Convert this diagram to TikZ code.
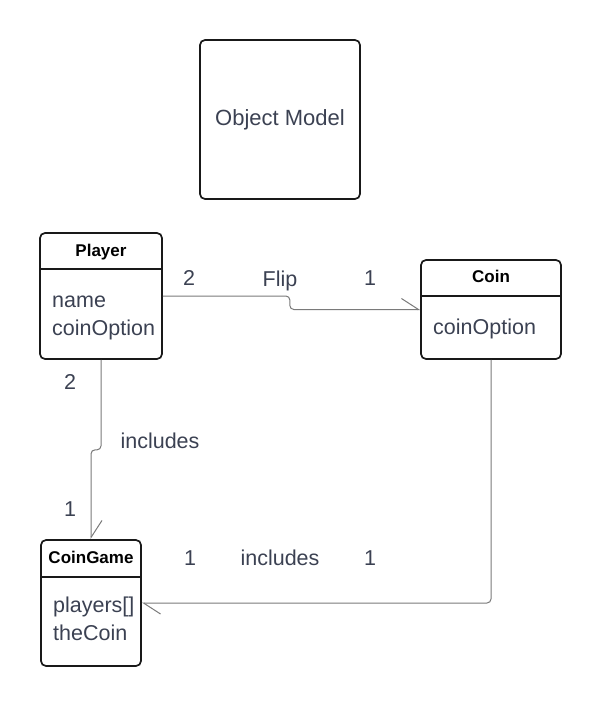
\documentclass[tikz,border=0pt]{standalone}
\usepackage{fontspec}
\setmainfont{Liberation Sans}
\usetikzlibrary{arrows.meta}

\definecolor{ink}{HTML}{3B4152}
\definecolor{wire}{HTML}{7A7A7A}

\begin{document}
\begin{tikzpicture}[
        x=1pt,y=-1pt,
        class box/.style={draw=black!90,line width=1.7pt,rounded corners=5pt,inner sep=0pt},
        head/.style={font=\fontsize{17}{20}\selectfont\bfseries,text=black,inner sep=0pt,anchor=base},
        attr/.style={font=\fontsize{21.5}{26}\selectfont,text=ink,inner sep=0pt,anchor=base west},
        lbl/.style={font=\fontsize{21.5}{26}\selectfont,text=ink,inner sep=0pt,anchor=base},
        sep/.style={draw=black!90,line width=1.5pt},
        conn/.style={draw=wire,line width=1pt,rounded corners=4pt,
            -{Straight Barb[harpoon,length=17pt,width=22pt]}},
        ]
    
    \useasboundingbox (0,0) rectangle (601,707);
    
    % title box
    \node[class box,minimum width=160pt,minimum height=159pt,
        font=\fontsize{22}{26}\selectfont,text=ink] (model) at (280,119.5) {Object Model};
    
    % classes
    \node[class box,minimum width=122pt,minimum height=126pt] (Player) at (101,296) {};
    \node[class box,minimum width=140pt,minimum height=99pt] (Coin) at (491,309.5) {};
    \node[class box,minimum width=100pt,minimum height=126pt] (CoinGame) at (91,603) {};
    
    \draw[sep] ([yshift=-37pt]Player.north west) -- ([yshift=-37pt]Player.north east);
    \draw[sep] ([yshift=-37pt]Coin.north west) -- ([yshift=-37pt]Coin.north east);
    \draw[sep] ([yshift=-38pt]CoinGame.north west) -- ([yshift=-38pt]CoinGame.north east);
    
    \node[head] (playerHead) at (101,256) {Player};
    \node[attr] (playerName) at (52,307) {name};
    \node[attr] (playerOption) at (52,335) {coinOption};
    
    \node[head] (coinHead) at (491,282) {Coin};
    \node[attr] (coinOption) at (433,334) {coinOption};
    
    \node[head] (gameHead) at (91,563) {CoinGame};
    \node[attr] (gamePlayers) at (53,612) {players[]};
    \node[attr] (gameCoin) at (53,640) {theCoin};
    
    % associations
    \draw[conn] (Player.east) -- ++(127,0) |- (Coin.west);
    \draw[conn] (Player.south) -- ++(0,90) -| (CoinGame.north);
    \draw[conn] (Coin.south) |- (CoinGame.east);
    
    \node[lbl] (flipA) at (189,285) {2};
    \node[lbl] (flip) at (280,286) {Flip};
    \node[lbl] (flipB) at (370,285) {1};
    
    \node[lbl] (inclA) at (70,389) {2};
    \node[lbl] (incl) at (160,448) {includes};
    \node[lbl] (inclB) at (70,516) {1};
    
    \node[lbl] (holdA) at (190,565) {1};
    \node[lbl] (hold) at (280,565) {includes};
    \node[lbl] (holdB) at (370,565) {1};
    \end{tikzpicture}
\end{document}
